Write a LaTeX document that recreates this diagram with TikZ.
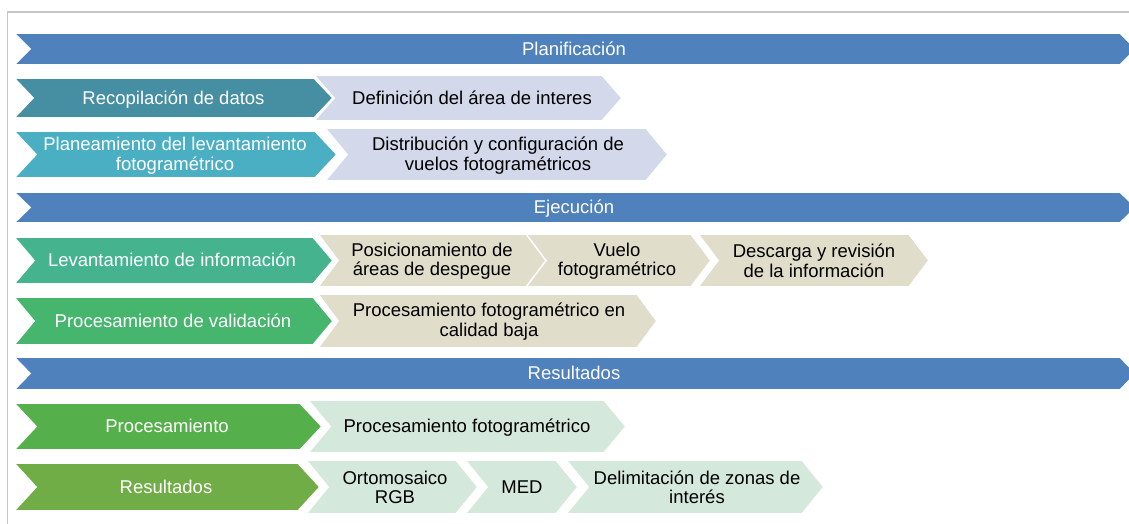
\documentclass[tikz,border=0pt]{standalone}
\usepackage{fontspec}
\setmainfont{Liberation Sans}
\definecolor{cblue}{HTML}{4F81BD}
\definecolor{ctealA}{HTML}{468EA2}
\definecolor{ctealB}{HTML}{4AAFC3}
\definecolor{cgrnA}{HTML}{45B48E}
\definecolor{cgrnB}{HTML}{46B56E}
\definecolor{cgrnC}{HTML}{55B04B}
\definecolor{cgrnD}{HTML}{70AD47}
\definecolor{clav}{HTML}{D3D8EB}
\definecolor{cbeige}{HTML}{E1DDCB}
\definecolor{cmint}{HTML}{D5E8DC}
\definecolor{cframe}{HTML}{C6C6C6}
\newcommand{\mychev}[6]{%
  \path[fill=#6, draw=white, line width=1.6pt, line join=miter]
    (#1,#3) -- ({#2-#5},#3) -- (#2,{(#3+#4)/2}) -- ({#2-#5},#4) -- (#1,#4)
    -- ({#1+#5},{(#3+#4)/2}) -- cycle;}
\tikzset{
  txt/.style={inner sep=0pt, align=center, font=\fontsize{18.5}{19.5}\selectfont},
  wtxt/.style={txt, text=white},
  btxt/.style={txt, text=black},
  one/.style={anchor=base}
}
\begin{document}
\begin{tikzpicture}[x=1pt,y=-1pt]
\useasboundingbox (0,0) rectangle (1129,523);
\draw[cframe, line width=1.5pt] (7.5,540) -- (7.5,12) -- (1140,12);

% phase bars
\mychev{14}{1136}{33}{65}{16}{cblue}
\mychev{14}{1136}{192}{223}{16}{cblue}
\mychev{14}{1136}{357}{390}{16}{cblue}
\node[wtxt,one] (p1) at (574,55) {Planificación};
\node[wtxt,one] (p2) at (574,213.5) {Ejecución};
\node[wtxt,one] (p3) at (574,379.5) {Resultados};

% row 2
\mychev{314}{622}{75}{121}{20}{clav}
\mychev{14}{333}{78}{118}{19}{ctealA}
\node[wtxt,one] (a1) at (173.5,104) {Recopilación de datos};
\node[btxt,one] (a2) at (472,104) {Definición del área de interes};

% row 3
\mychev{325}{668}{128}{181}{22}{clav}
\mychev{14}{337}{131}{178}{22}{ctealB}
\node[wtxt] (b1) at (175,155.5) {Planeamiento del levantamiento\\fotogramétrico};
\node[btxt] (b2) at (498,155.5) {Distribución y configuración de\\vuelos fotogramétricos};

% row 4
\mychev{318}{549}{234}{287}{20}{cbeige}
\mychev{526}{711}{234}{287}{20}{cbeige}
\mychev{698}{929}{234}{287}{20}{cbeige}
\mychev{14}{333}{237}{284}{20}{cgrnA}
\node[wtxt,one] (c1) at (172,266.5) {Levantamiento de información};
\node[btxt] (c2) at (432,261) {Posicionamiento de\\áreas de despegue};
\node[btxt] (c3) at (617,261) {Vuelo\\fotogramétrico};
\node[btxt] (c4) at (814,261) {Descarga y revisión\\de la información};

% row 5
\mychev{318}{657}{294}{348}{20}{cbeige}
\mychev{14}{333}{297}{345}{20}{cgrnB}
\node[wtxt,one] (d1) at (173,327) {Procesamiento de validación};
\node[btxt] (d2) at (489,321.5) {Procesamiento fotogramétrico en\\calidad baja};

% row 6
\mychev{308}{626}{400}{453}{22}{cmint}
\mychev{14}{322}{403}{450}{22}{cgrnC}
\node[wtxt,one] (e1) at (167,432.5) {Procesamiento};
\node[btxt,one] (e2) at (467,432.5) {Procesamiento fotogramétrico};

% row 7
\mychev{306}{478}{460}{514}{22}{cmint}
\mychev{465}{578}{460}{514}{22}{cmint}
\mychev{566}{824}{460}{514}{22}{cmint}
\mychev{14}{320}{463}{511}{22}{cgrnD}
\node[wtxt,one] (f1) at (166,493) {Resultados};
\node[btxt] (f2) at (395,487.5) {Ortomosaico\\RGB};
\node[btxt,one] (f3) at (522,493) {MED};
\node[btxt] (f4) at (697,487.5) {Delimitación de zonas de\\interés};
\end{tikzpicture}
\end{document}
